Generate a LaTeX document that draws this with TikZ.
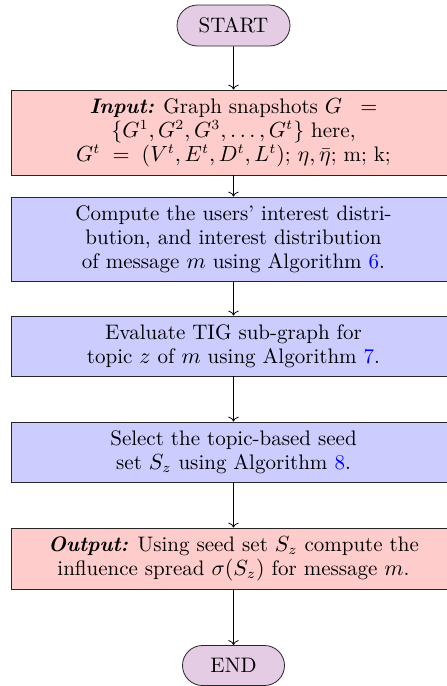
\documentclass[tikz,border=0pt]{standalone}
\usetikzlibrary{shapes.misc,arrows.meta}
\begin{document}
\begin{tikzpicture}[x=0.5pt,y=-0.5pt,
  every node/.style={font=\fontsize{10.5}{12}\selectfont},
  term/.style={rounded rectangle,draw=black!85,fill=violet!20,minimum height=20.5pt,inner sep=2pt},
  iobox/.style={rectangle,draw=black!85,fill=red!20,minimum width=222.5pt,align=center,inner sep=3pt},
  procbox/.style={rectangle,draw=black!85,fill=blue!20,minimum width=222.5pt,align=center,inner sep=3pt},
  flow/.style={->,draw=black}]
\useasboundingbox (0,0) rectangle (446,686);
\node[term,minimum width=60.5pt] (start) at (233.5,25.5) {START};
\node[iobox,minimum height=42.5pt] (input) at (233.5,132.5)
  {\textbf{\textit{Input:}} Graph snapshots $G\;\;=$\\
   $\{G^1,G^2,G^3,\ldots,G^t\}$ here,\\
   $G^t\;=\;(V^t,E^t,D^t,L^t)$; $\eta,\bar{\eta}$; m; k;};
\node[procbox,minimum height=42pt] (comp) at (233.5,239)
  {Compute the users' interest distri-\\
   bution, and interest distribution\\
   of message $m$ using Algorithm \textcolor{blue}{6}.};
\node[procbox,minimum height=30pt] (eval) at (233.5,346)
  {Evaluate TIG sub-graph for\\
   topic $z$ of $m$ using Algorithm \textcolor{blue}{7}.};
\node[procbox,minimum height=30pt] (sel) at (233.5,452)
  {Select the topic-based seed\\
   set $S_z$ using Algorithm \textcolor{blue}{8}.};
\node[iobox,minimum height=30.5pt] (out) at (233.5,558.5)
  {\textbf{\textit{Output:}} Using seed set $S_z$ compute the\\
   influence spread $\sigma(S_z)$ for message $m$.};
\node[term,minimum width=55pt,minimum height=20pt] (end) at (233.5,665.5) {END};
\draw[flow] (start) -- (input);
\draw[flow] (input) -- (comp);
\draw[flow] (comp) -- (eval);
\draw[flow] (eval) -- (sel);
\draw[flow] (sel) -- (out);
\draw[flow] (out) -- (end);
\end{tikzpicture}
\end{document}
